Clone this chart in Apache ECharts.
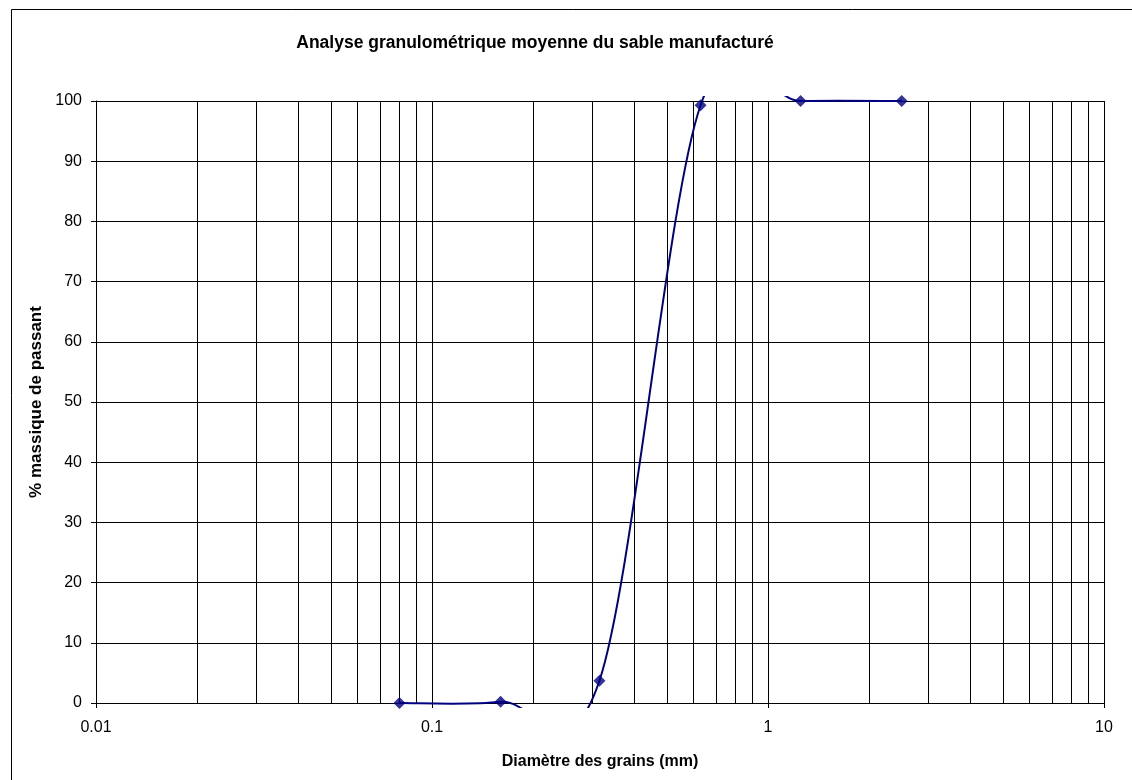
<!DOCTYPE html>
<html>
<head>
<meta charset="utf-8">
<style>
  html, body { margin: 0; padding: 0; background: #fff; }
  #chart { width: 1132px; height: 780px; }
</style>
<script src="https://cdn.jsdelivr.net/npm/echarts@6/dist/echarts.min.js"></script>
</head>
<body>
<div id="chart"></div>
<script>
// Sieve openings (mm) and cumulative passing (%)
const sieveSizes = [0.08, 0.16, 0.315, 0.63, 1.25, 2.5];
const passing = [0, 0.2, 3.7, 99.3, 100, 100];

// Axis ticks
const xTickLabels = ['0.01', '0.1', '1', '10'];
const yTicks = [0, 10, 20, 30, 40, 50, 60, 70, 80, 90, 100];

// Intermediate log gridlines (2..9 within each decade)
const minorGrid = [];
[0.01, 0.1, 1].forEach(function (d) {
  for (let m = 2; m <= 9; m++) minorGrid.push(+(m * d).toPrecision(3));
});

const lineColor = '#000080';
const font = 'Arial, "Liberation Sans", sans-serif';

const chart = echarts.init(document.getElementById('chart'), null, { renderer: 'canvas' });

// Smoothed curve through the points (cubic Bezier, neighbour-based tangents)
function renderCurve(params, api) {
  if (params.dataIndex !== 0) return null;
  const pts = sieveSizes.map(function (x, i) { return api.coord([x, passing[i]]); });
  const n = pts.length;
  let d = 'M' + pts[0][0] + ' ' + pts[0][1];
  for (let i = 0; i < n - 1; i++) {
    const p0 = pts[Math.max(i - 1, 0)];
    const p1 = pts[i];
    const p2 = pts[i + 1];
    const p3 = pts[Math.min(i + 2, n - 1)];
    const c1x = p1[0] + (p2[0] - p0[0]) / 6;
    const c1y = p1[1] + (p2[1] - p0[1]) / 6;
    const c2x = p2[0] - (p3[0] - p1[0]) / 6;
    const c2y = p2[1] - (p3[1] - p1[1]) / 6;
    d += ' C' + c1x + ' ' + c1y + ' ' + c2x + ' ' + c2y + ' ' + p2[0] + ' ' + p2[1];
  }
  const cs = params.coordSys;
  return {
    type: 'group',
    clipPath: {
      type: 'rect',
      shape: { x: cs.x - 5, y: cs.y - 5, width: cs.width + 10, height: cs.height + 10 }
    },
    children: [{
      type: 'path',
      shape: { pathData: d },
      style: { fill: null, stroke: lineColor, lineWidth: 2 }
    }]
  };
}

chart.setOption({
  animation: false,
  backgroundColor: '#fff',
  title: {
    text: 'Analyse granulométrique moyenne du sable manufacturé',
    left: 535,
    top: 34,
    padding: 0,
    textAlign: 'center',
    textStyle: { fontFamily: font, fontSize: 17.5, fontWeight: 'bold', color: '#000' }
  },
  graphic: [{
    type: 'rect',
    shape: { x: 11.5, y: 9.5, width: 1200, height: 900 },
    style: { fill: null, stroke: '#000', lineWidth: 1 },
    silent: true
  }],
  grid: { left: 96, right: 28, top: 101, bottom: 77 },
  xAxis: {
    type: 'log',
    logBase: 10,
    min: 0.01,
    max: 10,
    name: 'Diamètre des grains (mm)',
    nameLocation: 'middle',
    nameGap: 51,
    nameTextStyle: { fontFamily: font, fontSize: 16, fontWeight: 'bold', color: '#000' },
    axisLine: { show: true, lineStyle: { color: '#000', width: 1 } },
    axisTick: { show: true, length: 5, lineStyle: { color: '#000' } },
    axisLabel: {
      margin: 17,
      fontFamily: font, fontSize: 16, color: '#000',
      formatter: function (v) {
        const idx = Math.round(Math.log10(v)) + 2;
        return xTickLabels[idx] !== undefined ? xTickLabels[idx] : '';
      }
    },
    splitLine: { show: true, lineStyle: { color: '#000', width: 1 } }
  },
  yAxis: {
    type: 'value',
    min: yTicks[0],
    max: yTicks[yTicks.length - 1],
    interval: 10,
    name: '% massique de passant',
    nameLocation: 'middle',
    nameGap: 51,
    nameTextStyle: { fontFamily: font, fontSize: 17, fontWeight: 'bold', color: '#000' },
    axisLine: { show: true, lineStyle: { color: '#000', width: 1 } },
    axisTick: { show: true, length: 5, lineStyle: { color: '#000' } },
    axisLabel: { margin: 14, fontFamily: font, fontSize: 16, color: '#000' },
    splitLine: { show: true, lineStyle: { color: '#000', width: 1 } }
  },
  series: [
    {
      type: 'custom',
      name: 'courbe',
      renderItem: renderCurve,
      data: [[sieveSizes[0], passing[0]]],
      silent: true,
      z: 3
    },
    {
      type: 'scatter',
      name: 'points',
      data: sieveSizes.map(function (x, i) { return [x, passing[i]]; }),
      symbol: 'diamond',
      symbolSize: 12,
      itemStyle: { color: lineColor },
      silent: true,
      z: 4,
      markLine: {
        silent: true,
        symbol: ['none', 'none'],
        label: { show: false },
        lineStyle: { color: '#000', width: 1, type: 'solid' },
        data: minorGrid.map(function (v) { return { xAxis: v }; }),
        z: 1
      }
    }
  ]
});
</script>
</body>
</html>
